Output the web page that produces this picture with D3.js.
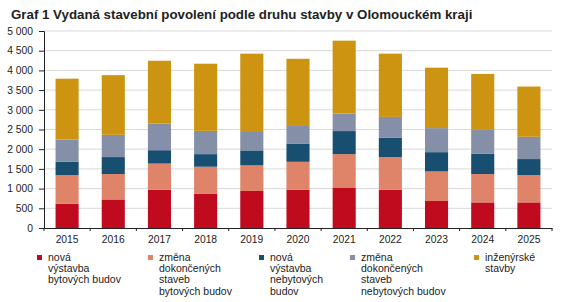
<!DOCTYPE html>
<head>
    <meta charset="utf-8">
    <title>Graf 1</title>
    <script src="https://cdn.jsdelivr.net/npm/d3@7"></script>
    <style>
        body { margin: 0; background: #fff; }
        text { font-family: "Liberation Sans", Arial, sans-serif; fill: #222; }
    </style>
</head>
<body>
<script>
    const years = ["2015", "2016", "2017", "2018", "2019", "2020", "2021", "2022", "2023", "2024", "2025"];
    const novaByt = [615, 725, 970, 875, 940, 970, 1015, 970, 685, 650, 650];
    const zmenaByt = [730, 645, 665, 680, 650, 710, 860, 830, 750, 720, 695];
    const novaNebyt = [335, 430, 340, 320, 380, 455, 585, 495, 490, 520, 405];
    const zmenaNebyt = [565, 565, 675, 590, 490, 455, 445, 525, 610, 600, 565];
    const inzenyrske = [1545, 1515, 1595, 1705, 1965, 1705, 1850, 1605, 1535, 1420, 1275];
    const yTicks = [0, 500, 1000, 1500, 2000, 2500, 3000, 3500, 4000, 4500, 5000];

    const series = [
        { key: "novaByt", label: ["nová", "výstavba", "bytových budov"], color: "#c00b1f", values: novaByt },
        { key: "zmenaByt", label: ["změna", "dokončených", "staveb", "bytových budov"], color: "#df8369", values: zmenaByt },
        { key: "novaNebyt", label: ["nová", "výstavba", "nebytových", "budov"], color: "#184f71", values: novaNebyt },
        { key: "zmenaNebyt", label: ["změna", "dokončených", "staveb", "nebytových budov"], color: "#858fa8", values: zmenaNebyt },
        { key: "inzenyrske", label: ["inženýrské", "stavby"], color: "#cc9410", values: inzenyrske }
    ];

    const table = years.map(function (y, i) {
        const row = { year: y };
        series.forEach(function (s) { row[s.key] = s.values[i]; });
        return row;
    });

    const W = 567, H = 302;
    const margin = { top: 31, right: 15, bottom: 74, left: 44 };

    const svg = d3.select("body").append("svg")
        .attr("width", W).attr("height", H);

    const xScale = d3.scaleBand()
        .domain(years)
        .range([margin.left, W - margin.right])
        .paddingInner(0.5).paddingOuter(0.25);

    const yScale = d3.scaleLinear()
        .domain([0, 5000])
        .range([H - margin.bottom, margin.top]);

    // gridlines
    svg.append("g")
        .selectAll("line")
        .data(yTicks.slice(1))
        .enter().append("line")
        .attr("x1", margin.left).attr("x2", W - margin.right)
        .attr("y1", function (d) { return yScale(d); })
        .attr("y2", function (d) { return yScale(d); })
        .attr("stroke", "#d9d9d9").attr("stroke-width", 1);

    const stack = d3.stack().keys(series.map(function (s) { return s.key; }));
    const layers = stack(table);

    svg.append("g").selectAll("g")
        .data(layers)
        .enter().append("g")
        .attr("fill", function (d, i) { return series[i].color; })
        .selectAll("rect")
        .data(function (d) { return d; })
        .enter().append("rect")
        .attr("x", function (d) { return xScale(d.data.year); })
        .attr("width", xScale.bandwidth())
        .attr("y", function (d) { return yScale(d[1]); })
        .attr("height", function (d) { return yScale(d[0]) - yScale(d[1]); });

    // y axis
    const fmt = function (d) { return d3.format(",")(d).replace(",", " "); };
    const yAxis = svg.append("g")
        .attr("transform", "translate(" + margin.left + ",0)")
        .call(d3.axisLeft(yScale).tickValues(yTicks).tickFormat(fmt).tickSize(5).tickPadding(6));
    yAxis.select(".domain").attr("stroke", "#222");
    yAxis.selectAll(".tick line").attr("stroke", "#222");
    yAxis.selectAll("text").style("font-size", "10.3px").attr("fill", "#222");

    // x axis
    const xAxis = svg.append("g")
        .attr("transform", "translate(0," + yScale(0) + ")")
        .call(d3.axisBottom(xScale).tickSize(0).tickPadding(8));
    xAxis.select(".domain").attr("stroke", "#222");
    xAxis.selectAll("text").style("font-size", "10.3px").attr("fill", "#222");

    const bounds = d3.range(years.length + 1).map(function (i) { return margin.left + i * (W - margin.right - margin.left) / years.length; });
    svg.append("g").selectAll("line")
        .data(bounds)
        .enter().append("line")
        .attr("x1", function (d) { return d; }).attr("x2", function (d) { return d; })
        .attr("y1", yScale(0)).attr("y2", yScale(0) + 3)
        .attr("stroke", "#222");

    // title
    svg.append("text")
        .attr("x", 11).attr("y", 19)
        .style("font-size", "13.3px").style("font-weight", "bold")
        .text("Graf 1 Vydaná stavební povolení podle druhu stavby v Olomouckém kraji");

    // legend
    const legendX = [37, 148, 259, 350, 474];
    const legend = svg.append("g").selectAll("g")
        .data(series)
        .enter().append("g")
        .attr("transform", function (d, i) { return "translate(" + legendX[i] + ",261)"; });
    legend.append("rect")
        .attr("x", 0).attr("y", -6).attr("width", 5).attr("height", 5)
        .attr("fill", function (d) { return d.color; });
    legend.append("text")
        .style("font-size", "10.5px")
        .selectAll("tspan")
        .data(function (d) { return d.label; })
        .enter().append("tspan")
        .attr("x", 11)
        .attr("y", function (d, i) { return i * 11.2; })
        .text(function (d) { return d; });
</script>
</body>
